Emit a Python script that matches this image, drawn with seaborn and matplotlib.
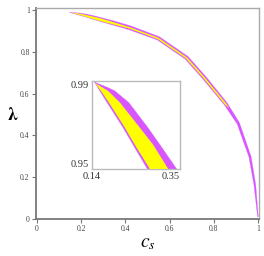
import numpy as np
import pandas as pd
import matplotlib
matplotlib.use("Agg")
import matplotlib.pyplot as plt
import seaborn as sns

# ---- data ----
# outer (upper/right) boundary of magenta region, from tip to end
mag_upper_x = [0.1465, 0.178, 0.195, 0.228, 0.274, 0.302, 0.3419, 0.4241, 0.5533, 0.6832, 0.7669, 0.8615, 0.9163, 0.9689, 0.990, 1.0015]
mag_upper_y = [0.9894, 0.9870, 0.9854, 0.9801, 0.9686, 0.9610, 0.9500, 0.9245, 0.8729, 0.7785, 0.6788, 0.5546, 0.4607, 0.2992, 0.1635, 0.010]
# inner (lower/left) boundary of magenta region, from tip to end
mag_lower_x = [0.1465, 0.1592, 0.1766, 0.2150, 0.2382, 0.2724, 0.4179, 0.5447, 0.6708, 0.7531, 0.8485, 0.9057, 0.9592, 0.982, 0.9985]
mag_lower_y = [0.9894, 0.9854, 0.9801, 0.9686, 0.9610, 0.9500, 0.9055, 0.8571, 0.7655, 0.6672, 0.5454, 0.4553, 0.2968, 0.1625, 0.010]
# yellow region boundaries
yel_upper_x = [0.1480, 0.1790, 0.2071, 0.2549, 0.2861, 0.3220, 0.4218, 0.5502, 0.6787, 0.7619, 0.8570, 0.870]
yel_upper_y = [0.9890, 0.9854, 0.9801, 0.9686, 0.9610, 0.9500, 0.9174, 0.8672, 0.7738, 0.6746, 0.5515, 0.530]
yel_lower_x = [0.1480, 0.1616, 0.1807, 0.2190, 0.2423, 0.2782, 0.4196, 0.5468, 0.6739, 0.7565, 0.8514, 0.870]
yel_lower_y = [0.9890, 0.9854, 0.9801, 0.9686, 0.9610, 0.9500, 0.9107, 0.8610, 0.7688, 0.6701, 0.5474, 0.530]

main_xticks = [0, 0.2, 0.4, 0.6, 0.8, 1]
main_xticklabels = ["0", "0.2", "0.4", "0.6", "0.8", "1"]
main_yticks = [0, 0.2, 0.4, 0.6, 0.8, 1]
main_yticklabels = ["0", "0.2", "0.4", "0.6", "0.8", "1"]
inset_xticks = [0.14, 0.35]
inset_yticks = [0.95, 0.99]

MAG = "#D955FF"
YEL = "#FFFF00"

sns.set_theme(style="white")
plt.rcParams["font.family"] = ["Liberation Serif", "DejaVu Serif"]
plt.rcParams["mathtext.fontset"] = "stix"

fig = plt.figure(figsize=(2.64, 2.56), dpi=100)
ax = fig.add_axes([37/264 - 0.004, 1 - 219/256, (259 - 36)/264, (219 - 8)/256])


def draw_region(a, lw):
    mx = mag_upper_x + mag_lower_x[::-1]
    my = mag_upper_y + mag_lower_y[::-1]
    a.fill(mx, my, color=MAG, lw=0, zorder=2)
    df_u = pd.DataFrame({"x": mag_upper_x, "y": mag_upper_y})
    df_l = pd.DataFrame({"x": mag_lower_x, "y": mag_lower_y})
    sns.lineplot(data=df_u, x="x", y="y", sort=False, estimator=None,
                 color=MAG, lw=lw, ax=a, zorder=3)
    sns.lineplot(data=df_l, x="x", y="y", sort=False, estimator=None,
                 color=MAG, lw=lw, ax=a, zorder=3)
    yx = yel_upper_x + yel_lower_x[::-1]
    yy = yel_upper_y + yel_lower_y[::-1]
    a.fill(yx, yy, color=YEL, lw=0, zorder=4)


draw_region(ax, 0.2)
ax.set_xlim(-0.0045, 1.0045)
ax.set_ylim(0, 1.01)
ax.set_xticks(main_xticks)
ax.set_xticklabels(main_xticklabels)
ax.set_yticks(main_yticks)
ax.set_yticklabels(main_yticklabels)
ax.set_yticks([0.1, 0.3, 0.5, 0.7, 0.9], minor=True)
ax.tick_params(axis="both", which="major", direction="out", length=3, width=0.8,
               colors="#777777", labelsize=5.5, labelcolor="#444444", pad=1.5)
ax.tick_params(axis="y", which="minor", direction="out", length=2, width=0.6, colors="#888888")
ax.tick_params(left=True, bottom=True)
for s in ["left", "bottom"]:
    ax.spines[s].set_color("#777777")
    ax.spines[s].set_linewidth(1.3)
for s in ["top", "right"]:
    ax.spines[s].set_color("#AAAAAA")
    ax.spines[s].set_linewidth(1.0)
ax.set_xlabel(r"$\boldsymbol{c_s}$", fontsize=14, color="black")
ax.set_ylabel(r"$\boldsymbol{\lambda}$", fontsize=13, color="black", rotation=0, va="center")
ax.yaxis.set_label_coords(-0.105, 0.49)
ax.xaxis.set_label_coords(0.5, -0.075)

# inset
axi = fig.add_axes([92/264, 1 - 169/256, 88/264, 88/256])
draw_region(axi, 0.3)
axi.set_xlim(0.14, 0.35)
axi.set_ylim(0.95, 0.99)
axi.set_xlabel("")
axi.set_ylabel("")
axi.set_xticks(inset_xticks)
axi.set_xticklabels(["0.14", "0.35"])
axi.set_yticks(inset_yticks)
axi.set_yticklabels(["0.95", "0.99"])
axi.tick_params(axis="both", length=0, labelsize=7.5, labelcolor="#333333", pad=2)
ylabs = axi.get_yticklabels()
ylabs[0].set_verticalalignment("bottom")
ylabs[1].set_verticalalignment("top")
xlabs = axi.get_xticklabels()
xlabs[0].set_horizontalalignment("center")
xlabs[1].set_horizontalalignment("right")
for s in axi.spines.values():
    s.set_color("#BBBBBB")
    s.set_linewidth(1.0)

fig.savefig("out.png", dpi=100)
